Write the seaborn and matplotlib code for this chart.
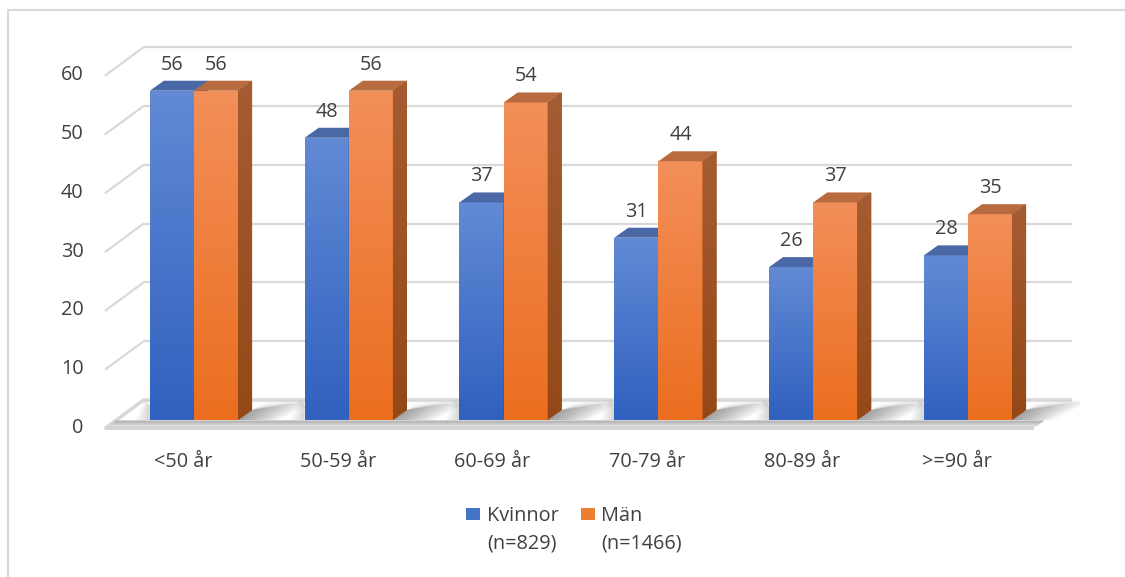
import numpy as np
import pandas as pd
import seaborn as sns
import matplotlib.pyplot as plt
from matplotlib.patches import Polygon, Rectangle
from matplotlib.transforms import ScaledTranslation
from matplotlib.colors import to_rgb

# ---- data -------------------------------------------------------------
categories = ["<50 år", "50-59 år", "60-69 år", "70-79 år", "80-89 år", ">=90 år"]
kvinnor = [56, 48, 37, 31, 26, 28]
man = [56, 56, 54, 44, 37, 35]
series = ["Kvinnor", "Män"]
series_n = ["(n=829)", "(n=1466)"]
y_ticks = [0, 10, 20, 30, 40, 50, 60]

values = {series[0]: kvinnor, series[1]: man}
df = pd.DataFrame({
    "Ålder": categories * 2,
    "Andel": kvinnor + man,
    "Kön": [series[0]] * len(categories) + [series[1]] * len(categories),
})

# ---- style ------------------------------------------------------------
W, H, DPI = 1125, 577, 100
TEXT = "#404040"
GRID = "#d9d9d9"
STYLE = {
    "Kvinnor": dict(base="#4472c4", front=("#628ad5", "#3061bf"),
                    top="#4a67a6", side=("#3f5f9e", "#2b4f93")),
    "Män": dict(base="#ed7d31", front=("#f38f59", "#eb6e1f"),
                top="#b96b40", side=("#a65c32", "#954817")),
}

sns.set_style("white")
plt.rcParams["font.family"] = ["Open Sans", "DejaVu Sans"]
plt.rcParams["font.size"] = 14.3

fig = plt.figure(figsize=(W / DPI, H / DPI), dpi=DPI)

# outer chart border (runs off the right and bottom edges)
fig.add_artist(Rectangle((8 / W, -0.02), 1.05, 1 - 10 / H + 0.02,
                         transform=fig.transFigure, fill=False,
                         ec="#d9d9d9", lw=1.5))

# plot area in pixels
AX_L, AX_R, AX_T, AX_B = 100, 1080, 40, 445
ax = fig.add_axes([AX_L / W, 1 - AX_B / H, (AX_R - AX_L) / W, (AX_B - AX_T) / H])
ax.set_facecolor("none")

sns.barplot(data=df, x="Ålder", y="Andel", hue="Kön", order=categories,
            hue_order=series, palette=[STYLE[s]["base"] for s in series],
            width=0.57, gap=0, saturation=1, errorbar=None, legend=False, ax=ax)

# pixel geometry of the bar plane
X0_PX, STEP_PX, Y0_PX, UNIT_PX = 194, 154.8, 420, 5.88
XLIM = ((AX_L - X0_PX) / STEP_PX, (AX_R - X0_PX) / STEP_PX)
YLIM = ((Y0_PX - AX_B) / UNIT_PX, (Y0_PX - AX_T) / UNIT_PX)

# depth offsets in pixels (dx right, dy up) relative to the bar fronts
FRONT = (-11, -8)
BACK = (27, 20)
DEPTH = (14, 10)


def shift(x, y, dx, dy):
    return x + dx / STEP_PX, y + dy / UNIT_PX


def gradient(clip, extent, c_top, c_bot, z):
    t = np.linspace(0, 1, 128)[:, None, None]
    img = (1 - t) * np.array(to_rgb(c_top)) + t * np.array(to_rgb(c_bot))
    im = ax.imshow(img, extent=extent, origin="upper", aspect="auto",
                   interpolation="bilinear", zorder=z)
    im.set_clip_path(clip)
    return im


xl, xr = -0.5, len(categories) - 0.5

# ---- back wall gridlines and left wall ----------------------------------
for v in y_ticks:
    bx0, by = shift(xl, v, *BACK)
    bx1, _ = shift(xr, v, *BACK)
    fx, fy = shift(xl, v, *FRONT)
    lw = 2.6 if v == 0 else 1.6
    ax.plot([bx0, bx1], [by, by], color=GRID, lw=lw, zorder=1,
            solid_capstyle="butt", clip_on=False)
    ax.plot([fx, bx0], [fy, by], color=GRID, lw=lw, zorder=1, clip_on=False)
    ax.text(fx, fy, f"{v}", ha="right", va="center", color=TEXT,
            transform=ax.transData + ScaledTranslation(-22 / DPI, 0, fig.dpi_scale_trans))

# floor front edge
fa = shift(xl, 0, *FRONT)
fb = shift(xr, 0, *FRONT)
ax.plot([fa[0], fb[0]], [fa[1], fb[1]], color="#d4d4d4", lw=2.8, zorder=1.2,
        solid_capstyle="butt", clip_on=False)

# floor front strip shading
strip = Polygon([shift(xl, 0, -9.5, -7), shift(xr, 0, -9.5, -7),
                 shift(xr, 0, -1, -0.5), shift(xl, 0, -1, -0.5)],
                closed=True, fc="none", lw=0)
ax.add_patch(strip)
s0 = shift(xl, 0, -11, -7)
s1 = shift(xr, 0, 0, -0.5)
gradient(strip, (s0[0], s1[0], s0[1], s1[1]), "#a6a6a6", "#ebebeb", 1.1)

# ---- bars ---------------------------------------------------------------
for k, (s, cont) in enumerate(zip(series, ax.containers)):
    st = STYLE[s]
    z = 3 + 0.2 * k
    for bar, val in zip(cont, values[s]):
        bar.set_linewidth(0)
        bar.set_zorder(z)
        x0, w, h = bar.get_x(), bar.get_width(), bar.get_height()
        x1 = x0 + w
        gradient(bar, (x0, x1, 0, h), *st["front"], z + 0.01)

        top = Polygon([(x0, h), (x1, h), shift(x1, h, *DEPTH), shift(x0, h, *DEPTH)],
                      closed=True, fc=st["top"], lw=0, zorder=z + 0.05)
        ax.add_patch(top)

        side = Polygon([(x1, 0), (x1, h), shift(x1, h, *DEPTH), shift(x1, 0, *DEPTH)],
                       closed=True, fc=st["side"][1], lw=0, zorder=z + 0.05)
        ax.add_patch(side)
        sx1, sy1 = shift(x1, h, *DEPTH)
        gradient(side, (x1, sx1, 0, sy1), *st["side"], z + 0.06)

        # soft shadow cast on the floor behind the last bar of each group
        if k == len(series) - 1:
            for L in np.linspace(6, 58, 13):
                sh = Polygon([(x1, 0), shift(x1, 0, *DEPTH),
                              shift(x1, 0, 22 + L, 20), shift(x1, 0, L * 0.7, 0)],
                             closed=True, fc="black", alpha=0.03, lw=0, zorder=1.5)
                ax.add_patch(sh)
        # faint shading on the floor in front of the first bar of each group
        if k == 0:
            for L in np.linspace(3, 14, 5):
                sh = Polygon([(x0, 0), shift(x0, 0, 0, 14),
                              shift(x0, 0, -L * 0.4, 20), shift(x0, 0, -L, 0)],
                             closed=True, fc="black", alpha=0.03, lw=0, zorder=1.5)
                ax.add_patch(sh)

        ax.annotate(f"{val}", xy=(x0 + w / 2, val), xytext=(0, 26 * 72 / DPI),
                    textcoords="offset points", ha="center", va="center",
                    color=TEXT, zorder=6)

# ---- axes ---------------------------------------------------------------
ax.set_xlim(*XLIM)
ax.set_ylim(*YLIM)
ax.set_yticks([])
ax.set_xlabel("")
ax.set_ylabel("")
ax.tick_params(axis="x", length=0, pad=5, labelcolor=TEXT)
ax.set_xticks(range(len(categories)), categories)
for lab in ax.get_xticklabels():
    lab.set_transform(lab.get_transform() + ScaledTranslation(-11 / DPI, 0, fig.dpi_scale_trans))
sns.despine(ax=ax, left=True, bottom=True)

# ---- legend -------------------------------------------------------------
handles = [Rectangle((0, 0), 1, 1, fc=STYLE[s]["base"], lw=0) for s in series]
leg = fig.legend(handles, series, loc="upper left",
                 bbox_to_anchor=(466 / W, 1 - 506 / H), ncol=2, frameon=False,
                 borderpad=0, borderaxespad=0, handlelength=0.72,
                 handleheight=0.6, handletextpad=0.33, columnspacing=1.1,
                 labelcolor=TEXT)
fig.canvas.draw()
for txt, n in zip(leg.get_texts(), series_n):
    bb = txt.get_window_extent()
    fig.text(bb.x0 / W, (bb.y0 - 27) / H, n, ha="left", va="bottom", color=TEXT)

fig.savefig("out.png", dpi=DPI)
